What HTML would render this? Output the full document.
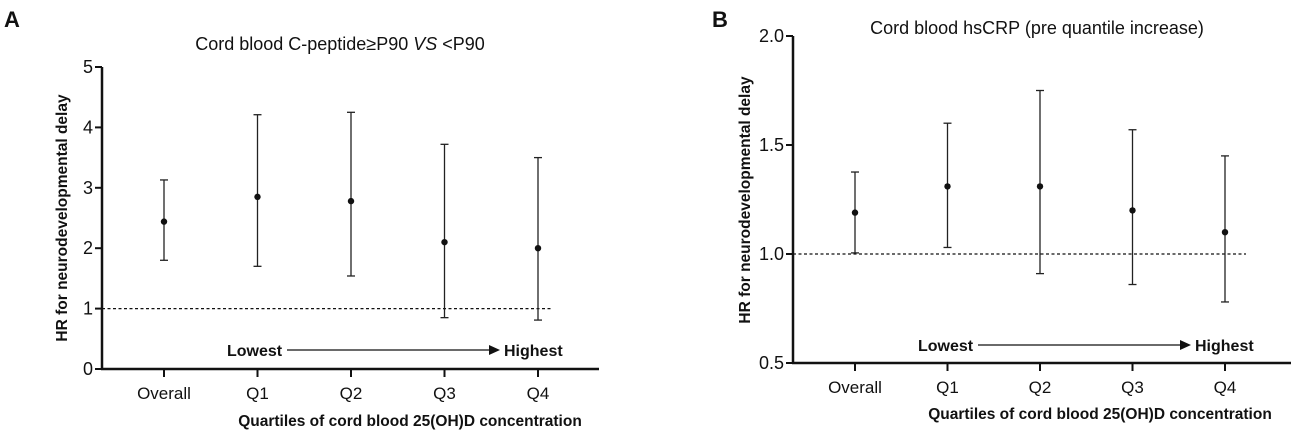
<!DOCTYPE html>
<html><head><meta charset="utf-8"><style>
body{margin:0;background:#fff;width:1291px;height:430px;overflow:hidden}
svg text{font-family:"Liberation Sans","Noto Sans CJK SC",sans-serif;fill:#111}
</style></head><body>
<svg id="chart" width="1291" height="430">
<text x="4" y="27" font-size="22" font-weight="bold">A</text>
<text x="712" y="27" font-size="22" font-weight="bold">B</text>
</svg>
<script>
const categories=["Overall","Q1","Q2","Q3","Q4"];
const aPoint=[2.44,2.85,2.78,2.10,2.00];
const aLow=[1.80,1.70,1.54,0.85,0.81];
const aHigh=[3.13,4.21,4.25,3.72,3.50];
const aTicks=[0,1,2,3,4,5];
const bPoint=[1.19,1.31,1.31,1.20,1.10];
const bLow=[1.005,1.03,0.91,0.86,0.78];
const bHigh=[1.376,1.60,1.75,1.57,1.45];
const bTicks=[0.5,1.0,1.5,2.0];

const svg=document.getElementById('chart');
const NS='http://www.w3.org/2000/svg';
function mk(tag,attrs,parent){const e=document.createElementNS(NS,tag);for(const k in attrs)e.setAttribute(k,attrs[k]);(parent||svg).appendChild(e);return e;}

function panel(p){
  const g=mk('g',{});
  
  
  const y=v=>p.y0-(v-p.vmin)*p.scale;
  const x=i=>p.x0+i*p.dx;
  const ya=mk('line',{x1:p.ax,y1:y(p.ticks[p.ticks.length-1]),x2:p.ax,y2:p.y0+1,stroke:'#111','stroke-width':2.5},g);
  
  
  const xa=mk('line',{x1:p.ax-1,y1:p.y0,x2:p.axEnd,y2:p.y0,stroke:'#111','stroke-width':2.5},g);
  
  
  p.ticks.forEach(t=>{
    mk('line',{x1:p.ax-7,y1:y(t),x2:p.ax,y2:y(t),stroke:'#111','stroke-width':2},g);
    const tx=mk('text',{x:p.ax-9,y:y(t)+6,'font-size':18,'text-anchor':'end'},g);
    tx.textContent=p.fmt(t);
    
    
  });
  categories.forEach((c,i)=>{
    mk('line',{x1:x(i),y1:p.y0,x2:x(i),y2:p.y0+8,stroke:'#111','stroke-width':2},g);
    const tx=mk('text',{x:x(i),y:p.y0+30,'font-size':17,'text-anchor':'middle'},g);
    tx.textContent=c;
    
    
  });
  const ref=mk('line',{x1:p.ax,y1:y(1),x2:p.dashEnd,y2:y(1),stroke:'#111','stroke-width':1.2,'stroke-dasharray':'3,2.5'},g);
  
  
  categories.forEach((c,i)=>{
    const eg=mk('g',{},g);
    
    
    mk('line',{x1:x(i),y1:y(p.low[i]),x2:x(i),y2:y(p.high[i]),stroke:'#222','stroke-width':1.3},eg);
    mk('line',{x1:x(i)-4,y1:y(p.low[i]),x2:x(i)+4,y2:y(p.low[i]),stroke:'#222','stroke-width':1.3},eg);
    mk('line',{x1:x(i)-4,y1:y(p.high[i]),x2:x(i)+4,y2:y(p.high[i]),stroke:'#222','stroke-width':1.3},eg);
    const pt=mk('circle',{cx:x(i),cy:y(p.point[i]),r:3.2,fill:'#111'},eg);
    
    
  });
  const l=mk('text',{x:p.lowX,y:p.arrY+6,'font-size':16,'font-weight':'bold'},g);
  l.textContent='Lowest';
  
  
  const ar=mk('line',{x1:p.lowX+60,y1:p.arrY,x2:p.arrEnd-8,y2:p.arrY,stroke:'#111','stroke-width':1.2},g);
  
  
  mk('polygon',{points:`${p.arrEnd},${p.arrY} ${p.arrEnd-11},${p.arrY-5} ${p.arrEnd-11},${p.arrY+5}`,fill:'#111'},g);
  const h=mk('text',{x:p.arrEnd+4,y:p.arrY+6,'font-size':16,'font-weight':'bold'},g);
  h.textContent='Highest';
  
  
  const yt=mk('text',{x:0,y:0,'font-size':15.5,'font-weight':'bold','text-anchor':'middle',transform:`translate(${p.ylx},${p.yly}) rotate(-90)`},g);
  yt.textContent='HR for neurodevelopmental delay';
  
  
  const xt=mk('text',{x:p.xtx,y:p.xty,'font-size':15.5,'font-weight':'bold','text-anchor':'middle'},g);
  xt.textContent='Quartiles of cord blood 25(OH)D concentration';
  
  
  const tt=mk('text',{x:p.ttx,y:p.tty,'font-size':18,'text-anchor':'middle'},g);
  tt.innerHTML=p.title;
  
  
}

panel({id:'panel-a',ax:102,axEnd:599,y0:369,vmin:0,scale:60.4,x0:164,dx:93.5,dashEnd:553,
  ticks:aTicks,fmt:t=>String(t),point:aPoint,low:aLow,high:aHigh,
  lowX:227,arrY:350,arrEnd:500,ylx:67,yly:218,xtx:410,xty:426,ttx:340,tty:50,
  title:'Cord blood C-peptide≥P90 <tspan font-style="italic">VS</tspan> &lt;P90'});
panel({id:'panel-b',ax:793,axEnd:1291,y0:363,vmin:0.5,scale:218,x0:855,dx:92.5,dashEnd:1246,
  ticks:bTicks,fmt:t=>t.toFixed(1),point:bPoint,low:bLow,high:bHigh,
  lowX:918,arrY:345,arrEnd:1191,ylx:750,yly:200,xtx:1100,xty:419,ttx:1037,tty:34,
  title:'Cord blood hsCRP (pre quantile increase)'});
</script>
</body></html>
